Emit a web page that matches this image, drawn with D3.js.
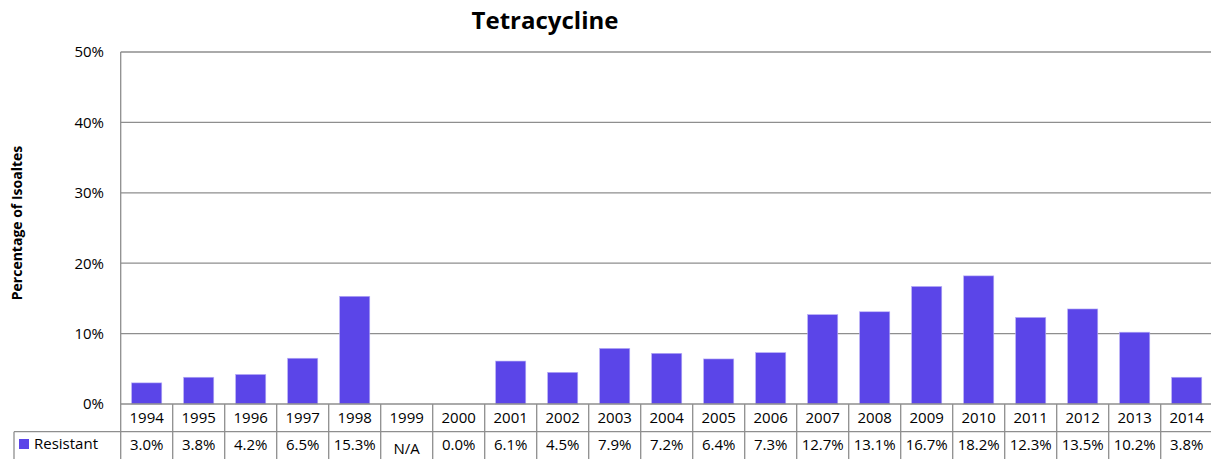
<!DOCTYPE html>
<html>
<head>
<meta charset="utf-8">
<script src="https://cdn.jsdelivr.net/npm/d3@7/dist/d3.min.js"></script>
<style>
  body { margin: 0; background: #fff; }
  svg text { font-family: "Open Sans", "Liberation Sans", sans-serif; fill: #000; }
</style>
</head>
<body>
<svg id="chart" width="1211" height="459"></svg>
<script>
// Tetracycline resistance by year (percent of isolates)
const years = ["1994","1995","1996","1997","1998","1999","2000","2001","2002","2003","2004",
               "2005","2006","2007","2008","2009","2010","2011","2012","2013","2014"];
const resistant = [3.0, 3.8, 4.2, 6.5, 15.3, null, 0.0, 6.1, 4.5, 7.9, 7.2,
                   6.4, 7.3, 12.7, 13.1, 16.7, 18.2, 12.3, 13.5, 10.2, 3.8];
const yTicks = [0, 10, 20, 30, 40, 50];
const seriesName = "Resistant";
const chartTitle = "Tetracycline";
const yTitle = "Percentage of Isoaltes";

const barColor = "#5B45E8";
const gridColor = "#8E8E8E";

const svg = d3.select("#chart");
const plotLeft = 120.7, plotRight = 1212.7, plotTop = 52, plotBottom = 404;
const row1 = 431.7, tableBottom = 470;

const x = d3.scaleBand().domain(years).range([plotLeft, plotRight]).padding(0);
const xb = d3.scaleBand().domain(years).range([plotLeft, plotRight]).paddingInner(0.42).paddingOuter(0.21);
const y = d3.scaleLinear().domain([0, 50]).range([plotBottom, plotTop]);

// title
svg.append("text")
  .attr("x", 545).attr("y", 29)
  .attr("text-anchor", "middle")
  .style("font-size", "24px").style("font-weight", "bold")
  .text(chartTitle);

// y axis title
svg.append("text")
  .attr("transform", "translate(22,223) rotate(-90)")
  .attr("text-anchor", "middle")
  .style("font-size", "14px").style("font-weight", "bold")
  .text(yTitle);

// gridlines
svg.append("g").selectAll("line")
  .data(yTicks.filter(d => d > 0))
  .join("line")
  .attr("x1", plotLeft).attr("x2", plotRight)
  .attr("y1", d => y(d)).attr("y2", d => y(d))
  .attr("stroke", gridColor).attr("stroke-width", 1.3);

// y tick labels
svg.append("g").selectAll("text")
  .data(yTicks)
  .join("text")
  .attr("x", 104).attr("y", d => y(d))
  .attr("dy", "0.36em")
  .attr("text-anchor", "end")
  .style("font-size", "15px")
  .text(d => d + "%");

// bars
svg.append("g").selectAll("rect")
  .data(years.map((yr, i) => ({ yr, v: resistant[i] })).filter(d => d.v !== null))
  .join("rect")
  .attr("x", d => xb(d.yr))
  .attr("width", xb.bandwidth())
  .attr("y", d => y(d.v))
  .attr("height", d => y(0) - y(d.v))
  .attr("fill", barColor)
  .attr("stroke", "#b9b0f5").attr("stroke-width", 0.6);

// data table
const tbl = svg.append("g");
// horizontal rules
tbl.append("line").attr("x1", plotLeft).attr("x2", plotRight).attr("y1", plotBottom).attr("y2", plotBottom)
  .attr("stroke", gridColor).attr("stroke-width", 1.3);
tbl.append("line").attr("x1", 14).attr("x2", plotRight).attr("y1", row1).attr("y2", row1)
  .attr("stroke", gridColor).attr("stroke-width", 1.3);
// left axis line, extending through the table
tbl.append("line").attr("x1", plotLeft).attr("x2", plotLeft).attr("y1", plotTop).attr("y2", tableBottom)
  .attr("stroke", gridColor).attr("stroke-width", 1.3);
// legend cell left border
tbl.append("line").attr("x1", 14).attr("x2", 14).attr("y1", row1).attr("y2", tableBottom)
  .attr("stroke", gridColor).attr("stroke-width", 1.3);
// column separators
tbl.selectAll("line.col")
  .data(years)
  .join("line").attr("class", "col")
  .attr("x1", d => x(d) + x.bandwidth()).attr("x2", d => x(d) + x.bandwidth())
  .attr("y1", plotBottom).attr("y2", tableBottom)
  .attr("stroke", gridColor).attr("stroke-width", 1.3);

// year labels
tbl.selectAll("text.year")
  .data(years)
  .join("text").attr("class", "year")
  .attr("x", d => x(d) + x.bandwidth() / 2)
  .attr("y", 418).attr("dy", "0.36em")
  .attr("text-anchor", "middle")
  .style("font-size", "15px")
  .text(d => d);

// value labels
tbl.selectAll("text.val")
  .data(years.map((yr, i) => ({ yr, v: resistant[i] })))
  .join("text").attr("class", "val")
  .attr("x", d => x(d.yr) + x.bandwidth() / 2)
  .attr("y", d => d.v === null ? 449 : 445).attr("dy", "0.36em")
  .attr("text-anchor", "middle")
  .style("font-size", "15px")
  .text(d => d.v === null ? "N/A" : d.v.toFixed(1) + "%");

// legend key
tbl.append("rect").attr("x", 19).attr("y", 439).attr("width", 10).attr("height", 10)
  .attr("fill", barColor);
tbl.append("text").attr("x", 34).attr("y", 444).attr("dy", "0.36em")
  .style("font-size", "15px").text(seriesName);
</script>
</body>
</html>
